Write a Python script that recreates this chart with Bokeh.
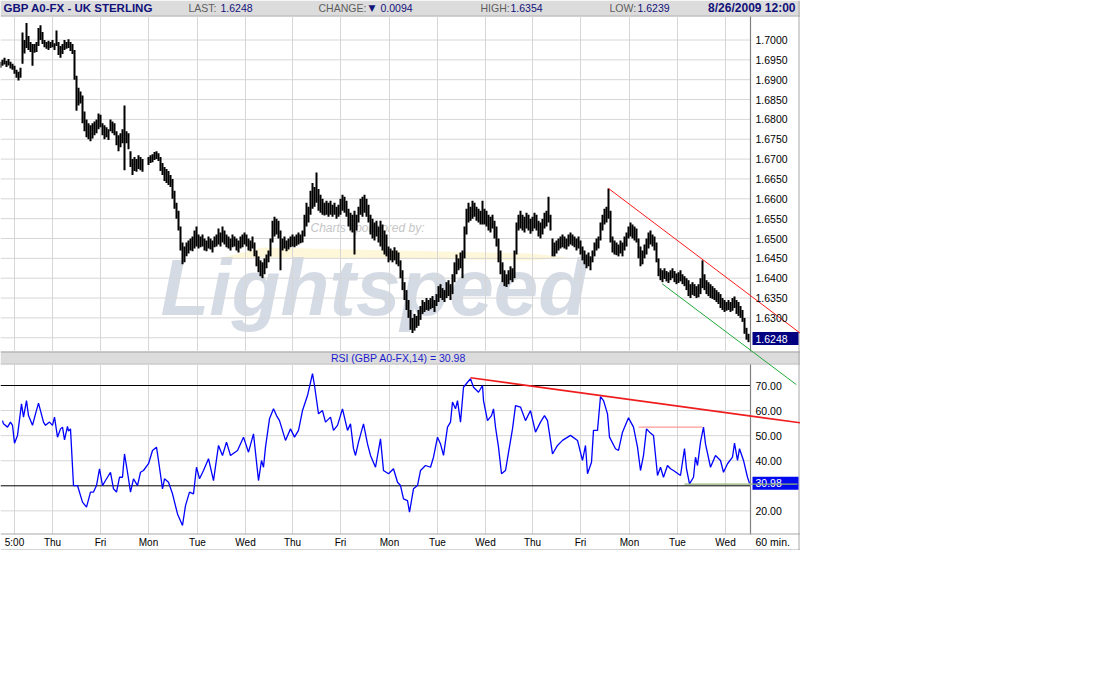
import numpy as np
from bokeh.plotting import figure
from bokeh.models import Range1d
from bokeh.core.properties import value
from bokeh.embed import file_html
from bokeh.resources import INLINE

# ---------------- data ----------------
symbol_title = "GBP A0-FX - UK STERLING"
last_price = 1.6248
change = 0.0094
day_high = 1.6354
day_low = 1.6239
stamp = "8/26/2009 12:00"
rsi_last = 30.98
rsi_name = "RSI (GBP A0-FX,14)"
interval_label = "60 min."

# hourly bars, prices in 1/10000 units (None = no trading)
price_high = [
    16945, 16950, 16955, 16948, 16952, 16945, 16940, 16935, 16925, 16920,
    16930, 17019, 17000, 17043, 17010, 16995, 16990, 16990, 16995, 17030,
    17037, 17020, 17000, 16995, 16998, 16995, 17000, 16992, 17024, 16995,
    16985, 16990, 17000, 16995, 17002, 16995, 16990, 16975, 16910, 16880,
    16870, 16860, 16820, 16800, 16790, 16785, 16790, 16795, 16800, 16815,
    16812, 16790, 16785, 16780, 16775, 16800, 16795, 16790, 16770, 16760,
    16765, 16775, 16835, 16770, 16765, 16720, 16700, 16705, 16700, 16710,
    16705, 16700, None, None, 16705, 16710, 16712, 16718, 16720, 16715,
    16705, 16690, 16680, 16675, 16670, 16660, 16650, 16620, 16590, 16570,
    16530, 16490, 16480, 16490, 16495, 16500, 16505, 16520, 16530, 16510,
    16505, 16510, 16500, 16495, 16505, 16500, 16495, 16505, 16510, 16525,
    16515, 16530, 16520, 16510, 16505, 16500, 16510, 16505, 16500, 16495,
    16505, 16510, 16515, 16510, 16500, 16495, 16505, 16490, 16470, 16455,
    16445, 16440, 16450, 16460, 16470, 16500, 16545, 16555, 16550, 16545,
    16520, 16500, 16505, 16495, 16500, 16505, 16510, 16505, 16510, 16515,
    16510, 16520, 16560, 16590, 16580, 16620, 16640, 16630, 16666, 16625,
    16610, 16600, 16590, 16595, 16590, 16595, 16585, 16590, 16580, 16585,
    16600, 16610, 16605, 16595, 16575, 16565, 16560, 16570, 16560, 16580,
    16600, 16605, 16610, 16600, 16585, 16560, 16550, 16540, 16545, 16530,
    16545, 16535, 16520, 16510, 16480, 16475, 16470, 16478, 16470, 16465,
    16445, 16420, 16390, 16370, 16345, 16320, 16300, 16310, 16305, 16320,
    16330, 16345, 16340, 16350, 16345, 16350, 16355, 16345, 16360, 16380,
    16385, 16375, 16370, 16390, 16395, 16385, 16410, 16440, 16460, 16450,
    16465, 16470, 16530, 16575, 16590, 16580, 16595, 16590, 16580, 16575,
    16570, 16595, 16575, 16570, 16560, 16555, 16560, 16545, 16530, 16500,
    16470, 16440, 16420, 16410, 16420, 16430, 16425, 16470, 16540, 16560,
    16570, 16560, 16555, 16565, 16560, 16550, 16555, 16565, 16560, 16545,
    16540, 16550, 16565, 16570, 16605, 16560, 16500, 16490, 16495, 16500,
    16505, 16510, 16505, 16500, 16510, 16515, 16510, 16505, 16500, 16505,
    16495, 16480, 16470, 16460, 16465, 16455, 16470, 16490, 16500, 16505,
    16540, 16560, 16575, 16580, 16626, 16570, 16505, 16495, 16490, 16485,
    16495, 16490, 16505, 16515, 16530, 16540, 16535, 16530, 16525, 16500,
    16480, 16470, 16485, 16500, 16515, 16520, 16510, 16505, 16490, 16450,
    16425, 16420, 16425, 16418, 16415, 16420, 16425, 16418, 16412, 16415,
    16420, 16410, 16405, 16400, 16395, 16385, 16390, 16385, 16380, 16385,
    16400, 16445, 16410, 16395, 16390, 16385, 16380, 16375, 16370, 16365,
    16360, 16350, 16345, 16340, 16345, 16340, 16350, 16354, 16345, 16340,
    16330, 16320, 16300, 16275, 16260,
]
price_low = [
    16930, 16935, 16938, 16932, 16936, 16928, 16925, 16915, 16905, 16898,
    16905, 16940, 16966, 16980, 16975, 16970, 16935, 16968, 16970, 16985,
    17000, 16990, 16982, 16978, 16975, 16980, 16982, 16975, 16985, 16962,
    16955, 16965, 16975, 16978, 16980, 16972, 16965, 16900, 16822, 16835,
    16840, 16790, 16770, 16755, 16750, 16745, 16752, 16760, 16765, 16775,
    16780, 16760, 16750, 16755, 16748, 16770, 16765, 16760, 16735, 16720,
    16730, 16740, 16672, 16740, 16725, 16680, 16660, 16670, 16668, 16675,
    16672, 16668, None, None, 16685, 16690, 16692, 16698, 16700, 16695,
    16670, 16660, 16645, 16640, 16635, 16630, 16600, 16575, 16550, 16520,
    16470, 16435, 16440, 16455, 16462, 16470, 16468, 16475, 16480, 16475,
    16478, 16480, 16470, 16468, 16475, 16472, 16465, 16478, 16480, 16485,
    16480, 16490, 16485, 16478, 16475, 16470, 16478, 16480, 16470, 16465,
    16475, 16478, 16485, 16480, 16470, 16468, 16475, 16455, 16430, 16415,
    16405, 16400, 16410, 16425, 16440, 16455, 16490, 16505, 16510, 16500,
    16420, 16470, 16475, 16468, 16472, 16478, 16480, 16478, 16482, 16485,
    16488, 16490, 16505, 16530, 16540, 16560, 16575, 16580, 16590, 16570,
    16565, 16560, 16558, 16560, 16555, 16560, 16555, 16560, 16550, 16555,
    16560, 16570, 16565, 16555, 16530, 16520, 16515, 16460, 16520, 16540,
    16560, 16555, 16565, 16555, 16540, 16510, 16500, 16495, 16505, 16490,
    16480, 16470, 16460, 16455, 16440, 16445, 16440, 16445, 16435, 16430,
    16400, 16370, 16345, 16320, 16300, 16270, 16262, 16268, 16275, 16280,
    16295, 16310, 16315, 16320, 16318, 16322, 16325, 16315, 16330, 16340,
    16350, 16345, 16340, 16350, 16355, 16345, 16360, 16390, 16410, 16420,
    16425, 16400, 16450, 16510, 16540, 16545, 16550, 16555, 16545, 16540,
    16535, 16535, 16535, 16530, 16520, 16515, 16525, 16500, 16480, 16440,
    16410, 16390, 16380, 16378, 16385, 16395, 16390, 16400, 16460, 16520,
    16525, 16520, 16515, 16525, 16520, 16512, 16518, 16525, 16520, 16505,
    16500, 16510, 16525, 16530, 16540, 16520, 16455, 16455, 16462, 16470,
    16475, 16478, 16475, 16472, 16480, 16485, 16482, 16478, 16470, 16475,
    16460, 16445, 16435, 16425, 16430, 16420, 16440, 16455, 16470, 16475,
    16495, 16520, 16535, 16540, 16550, 16490, 16465, 16460, 16458, 16455,
    16462, 16455, 16470, 16480, 16500, 16505, 16500, 16495, 16490, 16450,
    16430, 16435, 16450, 16460, 16475, 16485, 16480, 16470, 16440, 16405,
    16395, 16390, 16398, 16392, 16388, 16395, 16400, 16390, 16385, 16388,
    16392, 16385, 16380, 16370, 16355, 16350, 16358, 16355, 16350, 16352,
    16360, 16375, 16370, 16360, 16355, 16350, 16348, 16345, 16340, 16335,
    16325, 16320, 16315, 16318, 16320, 16315, 16318, 16325, 16310, 16305,
    16300, 16290, 16260, 16245, 16239,
]

# RSI(14) read at these hours
rsi_hours = [
    1, 1.5, 3.5, 5, 6, 7, 8.5, 10.5, 11.5, 13,
    14, 16, 17.5, 19, 21.5, 22.5, 24.5, 26, 27, 28.5,
    30, 31, 32, 33.5, 34, 35, 36.5, 38.5, 41, 43,
    45, 46.5, 48, 49.5, 51, 52.5, 55, 56.5, 58, 59.5,
    61, 62, 63.5, 65, 66.5, 68.5, 70, 71.5, 74, 76,
    78, 79, 81, 82, 84, 86, 88.5, 91, 92.5, 94.5,
    96.5, 98, 99.5, 101.5, 104, 106.5, 109, 111, 113, 115,
    118.5, 121.5, 124, 126.5, 129, 130.5, 131.5, 132.5, 134.5, 136.5,
    138, 139.5, 142.5, 145, 147, 149, 151, 153.5, 156, 157,
    159, 161, 162.5, 165, 166.5, 168.5, 171, 173.5, 175, 176.5,
    177.5, 179, 181.5, 183.5, 185, 187.5, 190, 191.5, 194, 196.5,
    198.5, 200, 201.5, 203.5, 204.5, 206.5, 208.5, 210, 212.5, 215,
    216.5, 218.5, 220, 221.5, 223.5, 225, 226, 227.5, 228.5, 230,
    231.5, 233.5, 235, 236.5, 239, 241, 241.5, 243.5, 245.5, 246.5,
    247.5, 249, 250.5, 252.5, 253.5, 256, 257.5, 260, 262.5, 265,
    267.5, 270, 272, 273.5, 276, 278.5, 281, 285, 288.5, 291,
    292.5, 293.5, 295.5, 296.5, 298.5, 300, 301.5, 303.5, 304.5, 307.5,
    309, 311, 314, 316.5, 318.5, 320, 321.5, 323, 324.5, 326.5,
    328.5, 330, 331.5, 333.5, 335, 336.5, 340, 342, 343, 344.5,
    346.5, 347.5, 348.5, 350, 351.5, 352.5, 355, 357.5, 360, 361.5,
    363.5, 366, 367, 368.5, 369.5, 371.5, 373.5, 374.5,
]
rsi_values = [
    56.0, 54.7, 53.4, 55.4, 54.1, 47.0, 50.1, 62.7, 57.4, 64.0,
    58.0, 54.1, 58.7, 63.0, 55.4, 54.1, 55.4, 54.1, 57.4, 49.4,
    52.7, 53.4, 48.3, 53.7, 51.8, 52.7, 30.1, 30.1, 23.5, 21.5,
    27.5, 27.5, 30.1, 36.8, 30.1, 32.1, 35.4, 28.8, 27.5, 33.4,
    33.4, 42.7, 35.4, 27.5, 32.8, 30.1, 35.4, 36.1, 38.8, 44.1,
    45.4, 40.1, 28.8, 32.8, 31.4, 26.8, 18.8, 14.2, 22.1, 27.5,
    26.8, 37.4, 32.8, 36.1, 40.8, 32.1, 46.1, 42.1, 47.4, 42.1,
    44.1, 49.4, 43.4, 50.7, 32.1, 40.1, 37.4, 45.4, 56.7, 60.7,
    58.0, 56.0, 48.1, 52.7, 49.4, 52.1, 60.0, 66.0, 74.7, 70.0,
    58.7, 60.0, 55.4, 57.4, 52.1, 54.1, 60.7, 52.1, 54.7, 44.8,
    42.1, 47.4, 54.7, 46.7, 42.1, 37.4, 48.7, 36.1, 34.8, 36.8,
    31.4, 30.1, 24.8, 24.1, 19.5, 28.8, 30.1, 36.1, 38.1, 37.4,
    41.4, 49.4, 46.7, 42.1, 53.4, 55.4, 63.4, 60.7, 64.0, 55.4,
    69.3, 71.3, 72.7, 69.3, 67.3, 70.0, 64.0, 56.0, 58.0, 60.7,
    53.4, 45.4, 34.8, 36.1, 40.8, 52.7, 62.0, 61.4, 56.0, 60.0,
    51.4, 55.4, 58.0, 56.0, 42.7, 46.1, 48.1, 50.1, 48.1, 40.1,
    46.1, 34.8, 39.4, 52.1, 52.1, 65.6, 64.0, 58.7, 49.4, 44.8,
    44.1, 51.4, 57.1, 53.4, 45.4, 36.1, 42.1, 52.7, 51.4, 50.1,
    34.1, 37.4, 33.4, 38.1, 36.8, 36.1, 34.1, 44.8, 36.8, 30.8,
    33.4, 41.4, 38.1, 47.4, 53.4, 46.7, 37.4, 42.1, 40.1, 35.4,
    38.8, 41.4, 47.0, 40.1, 44.8, 40.1, 33.4, 30.98,
]

day_tick_hours = [7, 26, 50, 74, 98.5, 122.5, 146, 170, 194.5, 218.5, 242.5, 266, 290, 314.5, 338.5, 362.5]
day_tick_labels = ["5:00", "Thu", "Fri", "Mon", "Tue", "Wed", "Thu", "Fri",
                   "Mon", "Tue", "Wed", "Thu", "Fri", "Mon", "Tue", "Wed"]
price_ticks = [1.7000, 1.6950, 1.6900, 1.6850, 1.6800, 1.6750, 1.6700, 1.6650,
               1.6600, 1.6550, 1.6500, 1.6450, 1.6400, 1.6350, 1.6300, 1.6250]
price_label_ticks = [1.7000, 1.6950, 1.6900, 1.6850, 1.6800, 1.6750, 1.6700, 1.6650,
                     1.6600, 1.6550, 1.6500, 1.6450, 1.6400, 1.6350, 1.6300]
rsi_grid = [60, 50, 40, 20]
rsi_bands = [70, 30]
rsi_label_ticks = [70, 60, 50, 40, 20]

# analyst trend lines (hours, value)
price_red_t, price_red_v = [304, 400], [1.6626, 1.6261]
price_green_t, price_green_v = [330.8, 397.9], [1.6386, 1.6132]
rsi_red_t, rsi_red_v = [235, 400], [73.1, 55.1]
rsi_pink_t, rsi_pink_v = [319, 351], [53.4, 53.4]
rsi_olive_t, rsi_olive_v = [342, 398.5], [30.7, 30.7]

# ---------------- layout ----------------
W, H = 800, 550
PX_PER_HOUR = 2.0
P_REF, P_ROW, P_SCALE = 1.7000, 39.5, 3970.0     # price 1.7000 on row 39.5
R_REF, R_ROW, R_SCALE = 70.0, 385.0, 2.5075      # RSI 70 on row 385


def py(row):
    return P_REF - (row - P_ROW) / P_SCALE


def ry(row):
    return R_REF - (row - R_ROW) / R_SCALE


def hx(col):
    return col / PX_PER_HOUR


AXIS_T = hx(750)
FONT = value("Liberation Sans")

p = figure(width=W, height=H, x_range=Range1d(0, hx(W)), y_range=Range1d(py(H), py(0)),
           output_backend="svg", toolbar_location=None, min_border=0,
           x_axis_location=None, y_axis_location=None,
           background_fill_color="white", border_fill_color="white")
p.extra_y_ranges = {"rsi": Range1d(ry(H), ry(0))}
p.grid.visible = False
p.outline_line_color = None

GRID = "#d6d6d6"
BAR_BG = "#dcdcdc"


def hline(x0, x1, y, color, width=1, rng=None):
    kw = {"y_range_name": rng} if rng else {}
    p.segment(x0=[x0] * len(y), y0=y, x1=[x1] * len(y), y1=y, line_color=color, line_width=width, **kw)


def txt(x, y, s, size="10.5px", color="black", align="left", style="normal",
        baseline="middle", rng=None, font=FONT):
    kw = {"y_range_name": rng} if rng else {}
    p.text(x=x, y=y, text=s, text_font=font, text_font_size=value(size), text_color=color,
           text_align=align, text_baseline=baseline, text_font_style=style, **kw)


# header + RSI title bars
p.quad(left=[0], right=[hx(W)], top=[py(0)], bottom=[py(15)], fill_color=BAR_BG, line_color=None)
hline(0, hx(W), [py(15.5)], "#a3a3a3")
p.quad(left=[0], right=[hx(W)], top=[py(351)], bottom=[py(364)], fill_color=BAR_BG, line_color=None)
hline(0, hx(W), [py(351.5)], "#a3a3a3")
hline(0, hx(W), [py(363.5)], "#c4c4c4")

# watermark
p.patch(x=[hx(218), hx(262), hx(530), hx(568), hx(530), hx(262)],
        y=[py(258), py(247), py(253), py(257), py(260), py(257)],
        fill_color="#fef7da", line_color=None)
txt([hx(160)], [py(287)], ["Lightspeed"], size="80px", color="#d5dbe5", style="bold italic",
    baseline="middle")
txt([hx(310)], [py(227)], ["Charts sponsored by:"], size="12px", color="#c6c6c6", style="italic")

# grids
p.segment(x0=day_tick_hours, y0=[py(16)] * len(day_tick_hours), x1=day_tick_hours,
          y1=[py(351)] * len(day_tick_hours), line_color=GRID, line_width=1)
p.segment(x0=day_tick_hours, y0=[py(364)] * len(day_tick_hours), x1=day_tick_hours,
          y1=[py(534)] * len(day_tick_hours), line_color=GRID, line_width=1)
hline(0, AXIS_T, price_ticks, GRID)
hline(0, AXIS_T, rsi_grid, GRID, rng="rsi")
hline(0, AXIS_T, rsi_bands, "black", rng="rsi")

# axis lines and frame
p.segment(x0=[AXIS_T, AXIS_T], y0=[py(16), py(364)], x1=[AXIS_T, AXIS_T], y1=[py(351), py(534)],
          line_color="#808080", line_width=1.2)
hline(0, hx(W), [py(533.5)], "#a8a8a8")
hline(0, hx(W), [py(549.5)], "#a8a8a8")
p.segment(x0=[hx(798.5)], y0=[py(0)], x1=[hx(798.5)], y1=[py(550)], line_color="#a8a8a8")

# price bars
hi = np.array([np.nan if v is None else v for v in price_high], dtype=float) / 10000.0
lo = np.array([np.nan if v is None else v for v in price_low], dtype=float) / 10000.0
hours = np.arange(len(hi))
p.segment(x0=hours, y0=lo, x1=hours, y1=hi, line_color="black", line_width=2.0)

# RSI line
p.line(rsi_hours, rsi_values, y_range_name="rsi", line_color="#0000ff", line_width=1.3)

# trend lines
p.line(price_red_t, price_red_v, line_color="#ff1a1a", line_width=1)
p.line(rsi_red_t, rsi_red_v, y_range_name="rsi", line_color="#ee1c1c", line_width=1.6)
p.line(rsi_pink_t, rsi_pink_v, y_range_name="rsi", line_color="#ff9a9a", line_width=1.3)

# last value boxes
p.rect(x=[hx(775)], y=[last_price], width=46, height=13, width_units="screen",
       height_units="screen", fill_color="#000080", line_color=None)
txt([hx(755)], [last_price], [f"{last_price:.4f}"], color="white")
p.rect(x=[hx(775)], y=[rsi_last], width=46, height=13, width_units="screen",
       height_units="screen", fill_color="#0008ee", line_color=None, y_range_name="rsi")
txt([hx(755)], [rsi_last], [f"{rsi_last:.2f}"], color="white", rng="rsi")

p.line(rsi_olive_t, rsi_olive_v, y_range_name="rsi", line_color="#93b374", line_width=1.3)
p.line(price_green_t, price_green_v, line_color="#22a83a", line_width=1)

# axis labels
txt([hx(755)] * len(price_label_ticks), price_label_ticks,
    [f"{v:.4f}" for v in price_label_ticks])
txt([hx(755)] * len(rsi_label_ticks), rsi_label_ticks,
    [f"{v:.2f}" for v in rsi_label_ticks], rng="rsi")
txt(day_tick_hours, [py(541.5)] * len(day_tick_hours), day_tick_labels, size="10px", align="center")
txt([hx(755)], [py(541.5)], [interval_label], size="10.5px")

# header texts
NAVY = "#12127a"
GRAYT = "#5e5e5e"
txt([hx(3)], [py(7.5)], [symbol_title], size="11.5px", color=NAVY, style="bold")
txt([hx(188), hx(318), hx(480), hx(609)], [py(7.5)] * 4,
    ["LAST:", "CHANGE:", "HIGH:", "LOW:"], color=GRAYT)
txt([hx(220), hx(380), hx(510), hx(637)], [py(7.5)] * 4,
    [f"{last_price:.4f}", f"{change:.4f}", f"{day_high:.4f}", f"{day_low:.4f}"], color=NAVY)
txt([hx(368)], [py(7.5)], ["\u25bc"], size="9px", color=NAVY, font=value("DejaVu Sans"))
txt([hx(795)], [py(7.5)], [stamp], size="12px", color=NAVY, style="bold", align="right")

# RSI title
txt([hx(398)], [py(357.5)], [f"{rsi_name} = {rsi_last:.2f}"], size="10.5px", color="#1d1dcc",
    align="center")

open("out.html", "w").write(file_html(p, INLINE))
